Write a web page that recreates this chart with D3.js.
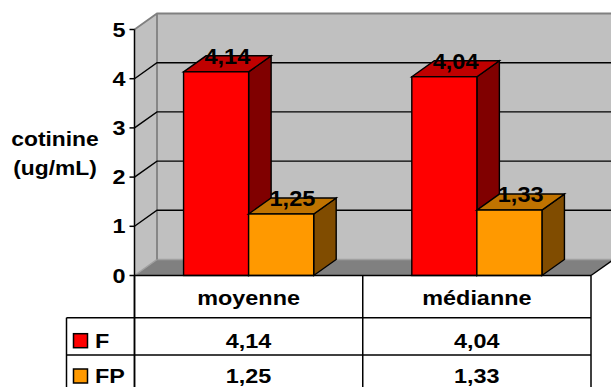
<!DOCTYPE html>
<html>
<head>
<meta charset="utf-8">
<script src="https://cdn.jsdelivr.net/npm/d3@7"></script>
<style>
  html, body { margin: 0; padding: 0; background: #fff; }
  svg { display: block; }
  text { font-family: "Liberation Sans", Arial, sans-serif; font-weight: bold; fill: #000; }
</style>
</head>
<body>
<svg id="chart" width="611" height="387"></svg>
<script>
// ---- data ----
const categories = ["moyenne", "médianne"];
const seriesNames = ["F", "FP"];
const valuesF = [4.14, 4.04];
const valuesFP = [1.25, 1.33];
const yTicks = [0, 1, 2, 3, 4, 5];
const yTitle = ["cotinine", "(ug/mL)"];

const seriesValues = [valuesF, valuesFP];
const seriesColors = [
  { front: "#FF0000", top: "#C00000", side: "#800000" },
  { front: "#FF9900", top: "#C07300", side: "#804C00" }
];

const fr = d3.formatLocale({ decimal: ",", thousands: " ", grouping: [3], currency: ["", "€"] });
const fmt = fr.format(".2f");

// ---- geometry ----
const svg = d3.select("#chart");
const W = 611, H = 387;
const dx = 22.5, dy = 16;
const left = 134.5, right = 591;
const y = d3.scaleLinear().domain([0, 5]).range([275.5, 29.5]);
const x = d3.scaleBand().domain(categories).range([left, right]).paddingInner(0).paddingOuter(0);
const xi = d3.scaleBand().domain(seriesNames).range([0, x.bandwidth()]).paddingInner(0).paddingOuter(0.754);

function stretchText(g, tx, ty, str, size, sx, anchor) {
  return g.append("text")
    .attr("transform", `translate(${tx},${ty}) scale(${sx},1)`)
    .attr("text-anchor", anchor || "middle")
    .style("font-size", size + "px")
    .text(str);
}

const y0 = y(0), yTop = y(5);
const backRight = right + dx + 40;

// back wall
svg.append("rect")
  .attr("x", left + dx).attr("y", yTop - dy)
  .attr("width", backRight - (left + dx)).attr("height", y0 - yTop)
  .attr("fill", "#C0C0C0");
// left side wall
svg.append("polygon")
  .attr("points", [[left, yTop], [left + dx, yTop - dy], [left + dx, y0 - dy], [left, y0]].join(" "))
  .attr("fill", "#C0C0C0");
// floor
svg.append("polygon")
  .attr("points", [[left, y0], [left + dx, y0 - dy], [right + dx, y0 - dy], [right, y0]].join(" "))
  .attr("fill", "#808080");
// floor outline (light)
svg.append("path")
  .attr("d", `M${left},${y0}L${left + dx},${y0 - dy}L${backRight},${y0 - dy}`)
  .attr("fill", "none").attr("stroke", "#A0A0A0").attr("stroke-width", 1.5);
// wall borders
svg.append("path")
  .attr("d", `M${left},${yTop}L${left + dx},${yTop - dy}L${backRight},${yTop - dy}M${left + dx},${yTop - dy}L${left + dx},${y0 - dy}`)
  .attr("fill", "none").attr("stroke", "#808080").attr("stroke-width", 1.8);

// gridlines
yTicks.filter(v => v > 0 && v < 5).forEach(v => {
  svg.append("path")
    .attr("d", `M${left},${y(v)}L${left + dx},${y(v) - dy}L${backRight},${y(v) - dy}`)
    .attr("fill", "none").attr("stroke", "#000").attr("stroke-width", 1.4);
});

// floor right edge
svg.append("line")
  .attr("x1", right).attr("y1", y0).attr("x2", right + dx).attr("y2", y0 - dy)
  .attr("stroke", "#000").attr("stroke-width", 1.4);

// bars
const barG = svg.append("g").attr("stroke", "#000").attr("stroke-width", 1.4).attr("stroke-linejoin", "miter");
categories.forEach((cat, i) => {
  seriesNames.forEach((s, j) => {
    const v = seriesValues[j][i];
    const x0 = x(cat) + xi(s), w = xi.bandwidth(), y1 = y(v);
    const c = seriesColors[j];
    barG.append("polygon")
      .attr("points", [[x0 + w, y1], [x0 + w + dx, y1 - dy], [x0 + w + dx, y0 - dy], [x0 + w, y0]].join(" "))
      .attr("fill", c.side);
    barG.append("polygon")
      .attr("points", [[x0, y1], [x0 + dx, y1 - dy], [x0 + w + dx, y1 - dy], [x0 + w, y1]].join(" "))
      .attr("fill", c.top);
    barG.append("rect")
      .attr("x", x0).attr("y", y1).attr("width", w).attr("height", y0 - y1)
      .attr("fill", c.front);
  });
});

// value labels
const labG = svg.append("g");
categories.forEach((cat, i) => {
  seriesNames.forEach((s, j) => {
    const v = seriesValues[j][i];
    const cx = x(cat) + xi(s) + xi.bandwidth() / 2 + dx / 2;
    stretchText(labG, cx, y(v) - dy / 2, fmt(v), 22, 1.07, "middle");
  });
});

// y axis
svg.append("line")
  .attr("x1", left).attr("y1", yTop).attr("x2", left).attr("y2", H + 2)
  .attr("stroke", "#000").attr("stroke-width", 1.5);
yTicks.forEach(v => {
  svg.append("line")
    .attr("x1", left - 5).attr("x2", left).attr("y1", y(v)).attr("y2", y(v))
    .attr("stroke", "#000").attr("stroke-width", 1.5);
  stretchText(svg, left - 9, y(v) + 7, String(v), 20, 1.17, "end");
});

// y title
yTitle.forEach((t, k) => {
  stretchText(svg, 55, 146 + k * 29, t, 19.5, 1.17, "middle");
});

// data table
const tG = svg.append("g").attr("stroke", "#000").attr("stroke-width", 1.5);
const headerBottom = 317.7, rowH = 37.3;
const legendLeft = 66.5;
// top edge of table
tG.append("line").attr("x1", left).attr("x2", right).attr("y1", y0).attr("y2", y0);
// column separators
[left, ...categories.slice(1).map(c => x(c)), right].forEach(xx => {
  tG.append("line").attr("x1", xx).attr("x2", xx).attr("y1", y0).attr("y2", H + 2);
});
// row lines
seriesNames.forEach((s, j) => {
  tG.append("line").attr("x1", legendLeft).attr("x2", right)
    .attr("y1", headerBottom + j * rowH).attr("y2", headerBottom + j * rowH);
});
tG.append("line").attr("x1", legendLeft).attr("x2", legendLeft).attr("y1", headerBottom).attr("y2", H + 2);

// header text
categories.forEach(cat => {
  stretchText(svg, x(cat) + x.bandwidth() / 2, 305, cat, 20, 1.17, "middle");
});
// rows
seriesNames.forEach((s, j) => {
  const base = Math.min(headerBottom + j * rowH + 30, 383);
  svg.append("rect")
    .attr("x", 73.5).attr("y", base - 14).attr("width", 14).attr("height", 14)
    .attr("fill", seriesColors[j].front).attr("stroke", "#000").attr("stroke-width", 1.5);
  stretchText(svg, 95, base, s, 20, 1.17, "start");
  categories.forEach((cat, i) => {
    stretchText(svg, x(cat) + x.bandwidth() / 2, base, fmt(seriesValues[j][i]), 20, 1.17, "middle");
  });
});
</script>
</body>
</html>
